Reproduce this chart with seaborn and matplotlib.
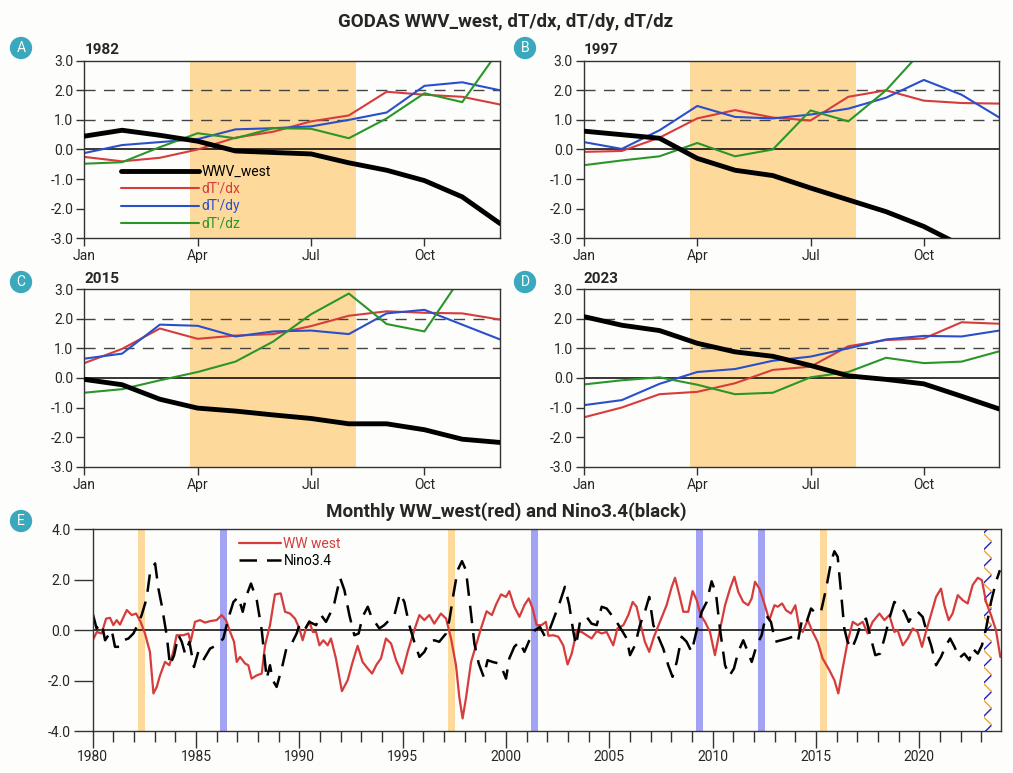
import numpy as np
import pandas as pd
import matplotlib
matplotlib.use("Agg")
import matplotlib.pyplot as plt
from matplotlib.ticker import FormatStrFormatter, MultipleLocator
import seaborn as sns

# --- datos paneles anuales (valores mensuales Jan..Dec) ---
meses = list(range(12))
etiquetas_mes = ['Jan', 'Apr', 'Jul', 'Oct']

wwv_1982 = [0.45, 0.65, 0.48, 0.28, -0.05, -0.10, -0.15, -0.45, -0.70, -1.05, -1.60, -2.50]
dx_1982 = [-0.25, -0.40, -0.28, 0.00, 0.40, 0.60, 0.95, 1.15, 1.95, 1.85, 1.78, 1.52]
dy_1982 = [-0.12, 0.15, 0.25, 0.35, 0.68, 0.72, 0.78, 1.00, 1.25, 2.15, 2.27, 2.00]
dz_1982 = [-0.48, -0.43, 0.08, 0.55, 0.38, 0.72, 0.70, 0.38, 1.05, 1.90, 1.60, 3.40]

wwv_1997 = [0.62, 0.50, 0.38, -0.30, -0.70, -0.88, -1.30, -1.70, -2.10, -2.60, -3.25, -3.60]
dx_1997 = [-0.08, -0.05, 0.40, 1.05, 1.33, 1.08, 0.98, 1.78, 2.00, 1.65, 1.57, 1.55]
dy_1997 = [0.25, 0.02, 0.65, 1.47, 1.10, 1.05, 1.18, 1.38, 1.75, 2.35, 1.85, 1.08]
dz_1997 = [-0.53, -0.37, -0.23, 0.22, -0.23, 0.00, 1.32, 0.95, 2.00, 3.40, 3.80, 4.00]

wwv_2015 = [-0.05, -0.23, -0.72, -1.02, -1.12, -1.25, -1.37, -1.55, -1.55, -1.75, -2.07, -2.18]
dx_2015 = [0.50, 0.98, 1.67, 1.32, 1.43, 1.48, 1.75, 2.10, 2.25, 2.20, 2.18, 1.97]
dy_2015 = [0.65, 0.82, 1.80, 1.76, 1.40, 1.57, 1.60, 1.48, 2.18, 2.30, 1.80, 1.30]
dz_2015 = [-0.50, -0.38, -0.08, 0.20, 0.55, 1.23, 2.15, 2.85, 1.82, 1.57, 3.45, 3.80]

wwv_2023 = [2.07, 1.78, 1.60, 1.17, 0.88, 0.73, 0.42, 0.07, -0.05, -0.20, -0.62, -1.05]
dx_2023 = [-1.33, -1.00, -0.55, -0.47, -0.18, 0.27, 0.38, 1.07, 1.28, 1.33, 1.88, 1.83]
dy_2023 = [-0.92, -0.75, -0.20, 0.20, 0.30, 0.58, 0.72, 1.00, 1.30, 1.42, 1.40, 1.60]
dz_2023 = [-0.22, -0.08, 0.02, -0.23, -0.55, -0.50, 0.02, 0.20, 0.68, 0.50, 0.55, 0.90]

# --- datos panel E (serie mensual) ---
ww_t = [1980.0, 1980.2, 1980.43, 1980.65, 1980.84, 1981.0, 1981.16, 1981.32, 1981.65, 1981.89,
        1982.1, 1982.32, 1982.53, 1982.77, 1982.94, 1983.1, 1983.26, 1983.5, 1983.71, 1983.9,
        1984.06, 1984.39, 1984.63, 1984.74, 1984.95, 1985.19, 1985.44, 1985.68, 1986.0, 1986.24,
        1986.45, 1986.68, 1986.84, 1986.97, 1987.13, 1987.37, 1987.53, 1987.69, 1987.94, 1988.18,
        1988.34, 1988.58, 1988.82, 1989.1, 1989.31, 1989.55, 1989.79, 1990.0, 1990.16, 1990.32,
        1990.48, 1990.65, 1990.81, 1990.97, 1991.16, 1991.37, 1991.53, 1991.77, 1992.06, 1992.34,
        1992.58, 1992.82, 1993.06, 1993.31, 1993.52, 1993.74, 1993.95, 1994.19, 1994.44, 1994.68,
        1994.97, 1995.24, 1995.56, 1995.81, 1996.05, 1996.29, 1996.53, 1996.85, 1997.1, 1997.34,
        1997.58, 1997.74, 1997.9, 1998.06, 1998.31, 1998.55, 1998.79, 1999.06, 1999.32, 1999.52,
        1999.76, 2000.0, 2000.16, 2000.4, 2000.65, 2000.89, 2001.1, 2001.29, 2001.48, 2001.72,
        2001.93, 2002.05, 2002.29, 2002.53, 2002.77, 2002.98, 2003.18, 2003.42, 2003.66, 2003.9,
        2004.14, 2004.39, 2004.63, 2004.87, 2005.19, 2005.39, 2005.68, 2005.92, 2006.13, 2006.32,
        2006.56, 2006.72, 2006.93, 2007.16, 2007.45, 2007.77, 2008.02, 2008.18, 2008.39, 2008.58,
        2008.82, 2009.03, 2009.23, 2009.42, 2009.63, 2009.87, 2010.11, 2010.35, 2010.6, 2010.84,
        2011.05, 2011.24, 2011.48, 2011.72, 2011.89, 2012.05, 2012.26, 2012.5, 2012.74, 2012.99,
        2013.15, 2013.36, 2013.55, 2013.79, 2014.0, 2014.2, 2014.36, 2014.6, 2014.84, 2015.08,
        2015.32, 2015.65, 2015.89, 2016.08, 2016.29, 2016.53, 2016.78, 2017.02, 2017.26, 2017.5,
        2017.74, 2018.07, 2018.31, 2018.55, 2018.79, 2018.95, 2019.2, 2019.44, 2019.68, 2019.92,
        2020.13, 2020.32, 2020.56, 2020.81, 2021.05, 2021.21, 2021.42, 2021.61, 2021.86, 2022.1,
        2022.34, 2022.58, 2022.83, 2023.03, 2023.23, 2023.47, 2023.71, 2023.92]
ww_v = [-0.40, -0.07, -0.13, 0.46, 0.49, 0.20, 0.40, 0.22, 0.80, 0.60,
        0.66, 0.33, -0.13, -0.86, -2.51, -2.25, -1.79, -1.26, -1.39, -0.86,
        -0.20, -0.20, -0.13, -0.46, 0.33, 0.40, 0.30, 0.36, 0.40, 0.60,
        0.40, -0.13, -0.46, -1.26, -1.06, -1.32, -1.39, -1.92, -1.79, -1.72,
        -0.60, 0.20, 1.42, 1.46, 0.73, 0.66, 0.46, 0.07, -0.40, 0.07,
        0.36, -0.07, -0.07, -0.60, -0.40, -0.60, -0.33, -1.12, -2.42, -1.98,
        -1.26, -0.62, -1.26, -1.52, -1.72, -1.36, -1.12, -0.33, -0.53, -1.19,
        -1.72, -0.86, 0.00, 0.60, 0.40, 0.60, 0.26, 0.66, 0.46, -0.33,
        -1.39, -2.65, -3.50, -2.71, -1.26, -0.60, 0.07, 0.75, 0.60, 1.02,
        1.42, 1.32, 1.55, 0.93, 0.53, 0.99, 1.26, 0.86, 0.20, 0.20,
        0.33, -0.22, -0.20, -0.26, -0.60, -1.36, -0.93, -0.04, -0.07, -0.20,
        -0.33, -0.04, -0.13, -0.07, -0.60, 0.07, 0.20, 0.60, 1.12, 0.93,
        0.07, -0.46, -0.86, -0.26, 0.33, 0.99, 1.72, 2.08, 1.39, 0.73,
        0.73, 1.55, 1.19, 0.60, 0.33, -0.07, -0.99, 0.00, 0.99, 1.65,
        2.12, 1.52, 1.12, 0.99, 1.26, 1.92, 1.65, 1.06, 0.40, 0.99,
        0.93, 1.06, 0.79, 0.66, 0.99, 0.07, -0.07, 0.40, -0.07, -0.46,
        -1.12, -1.59, -1.98, -2.51, -1.52, -0.46, 0.33, 0.20, 0.33, -0.13,
        0.33, 0.66, 0.40, 0.60, -0.07, 0.00, -0.60, -0.33, 0.07, -0.07,
        -0.66, -0.07, 0.60, 1.32, 1.65, 0.99, 0.40, 0.66, 1.39, 1.19,
        1.06, 1.79, 2.08, 1.98, 1.12, 0.60, 0.00, -1.06]

nino_t = [1980.0, 1980.19, 1980.44, 1980.6, 1980.92, 1981.08, 1981.32, 1981.48, 1981.73, 1981.97,
          1982.13, 1982.37, 1982.61, 1982.77, 1983.02, 1983.18, 1983.34, 1983.58, 1983.74, 1983.94,
          1984.15, 1984.31, 1984.47, 1984.68, 1984.9, 1985.11, 1985.35, 1985.68, 1986.0, 1986.32,
          1986.56, 1986.81, 1987.05, 1987.26, 1987.45, 1987.66, 1987.94, 1988.18, 1988.42, 1988.58,
          1988.71, 1988.9, 1989.15, 1989.39, 1989.63, 1989.87, 1990.0, 1990.24, 1990.48, 1990.81,
          1991.05, 1991.29, 1991.53, 1991.69, 1991.97, 1992.18, 1992.42, 1992.66, 1992.87, 1993.06,
          1993.31, 1993.52, 1993.71, 1993.87, 1994.11, 1994.35, 1994.6, 1994.87, 1995.08, 1995.32,
          1995.56, 1995.81, 1996.05, 1996.29, 1996.53, 1996.77, 1997.1, 1997.26, 1997.45, 1997.66,
          1997.87, 1998.06, 1998.26, 1998.47, 1998.68, 1998.92, 1999.11, 1999.35, 1999.65, 1999.84,
          2000.0, 2000.16, 2000.4, 2000.65, 2000.89, 2001.13, 2001.4, 2001.64, 2001.89, 2002.13,
          2002.37, 2002.61, 2002.85, 2003.06, 2003.26, 2003.39, 2003.58, 2003.9, 2004.14, 2004.39,
          2004.63, 2004.87, 2005.11, 2005.35, 2005.6, 2005.84, 2006.0, 2006.24, 2006.48, 2006.72,
          2006.93, 2007.13, 2007.37, 2007.61, 2007.85, 2008.06, 2008.26, 2008.5, 2008.74, 2008.98,
          2009.23, 2009.47, 2009.71, 2009.95, 2010.16, 2010.35, 2010.6, 2010.81, 2011.03, 2011.24,
          2011.48, 2011.64, 2011.89, 2012.13, 2012.37, 2012.58, 2012.82, 2013.03, 2013.31, 2013.63,
          2013.87, 2014.12, 2014.32, 2014.52, 2014.76, 2015.0, 2015.24, 2015.49, 2015.73, 2015.89,
          2016.05, 2016.21, 2016.37, 2016.53, 2016.74, 2016.94, 2017.18, 2017.42, 2017.66, 2017.87,
          2018.1, 2018.31, 2018.55, 2018.79, 2019.03, 2019.28, 2019.49, 2019.68, 2019.92, 2020.16,
          2020.36, 2020.57, 2020.81, 2021.05, 2021.29, 2021.49, 2021.7, 2021.94, 2022.18, 2022.42,
          2022.58, 2022.83, 2023.03, 2023.23, 2023.47, 2023.71, 2023.9]
nino_v = [0.66, 0.07, 0.26, -0.40, 0.00, -0.66, -0.66, -0.40, -0.33, -0.13,
          0.13, 0.60, 1.26, 2.25, 2.65, 1.65, 0.99, -0.20, -1.39, -0.99,
          -0.20, -0.46, -0.93, -0.46, -1.46, -0.86, -1.19, -0.73, -0.60, -0.33,
          0.46, 1.12, 1.32, 0.73, 1.39, 1.85, 1.19, 0.00, -1.92, -1.39,
          -1.98, -2.25, -1.52, -0.66, -0.53, -0.13, 0.20, 0.00, 0.33, 0.20,
          0.60, 0.33, 0.73, 1.06, 2.08, 1.59, 0.60, -0.20, -0.13, 0.53,
          0.93, 0.46, 0.26, 0.07, 0.20, 0.40, 0.60, 1.46, 1.12, 0.20,
          -0.46, -1.06, -0.86, -0.46, -0.40, -0.46, -0.13, 0.40, 1.39, 2.38,
          2.74, 2.38, 0.99, -0.53, -1.32, -1.85, -1.19, -1.26, -1.32, -1.59,
          -1.92, -1.12, -0.66, -0.46, -0.86, -0.40, 0.00, 0.13, -0.26, 0.07,
          0.60, 1.12, 1.72, 0.99, -0.07, -0.60, 0.33, 0.53, 0.26, 0.20,
          0.93, 0.86, 0.60, 0.33, 0.00, -0.33, -0.99, -0.60, 0.20, 0.73,
          1.32, 0.20, -0.26, -0.73, -1.39, -1.85, -1.26, -0.26, -0.46, -0.86,
          0.00, 0.73, 1.12, 1.94, 1.46, 0.07, -1.39, -1.81, -1.52, -0.86,
          -0.40, -0.73, -1.26, -0.60, -0.20, 0.60, 0.33, -0.46, -0.40, -0.33,
          -0.26, -0.46, 0.40, 0.26, 0.86, 0.66, 0.73, 1.65, 2.71, 3.13,
          2.91, 1.52, 0.07, -0.46, -0.73, -0.33, 0.26, 0.46, -0.33, -0.99,
          -0.93, -0.33, 0.46, 1.12, 0.99, 0.73, 0.33, 0.60, 0.73, 0.53,
          -0.07, -0.60, -1.39, -1.06, -0.60, -0.33, -0.66, -1.10, -0.93, -1.19,
          -0.73, -0.93, -0.60, 0.07, 1.12, 1.92, 2.38]

bandas_naranja = [1982.17, 1997.17, 2015.19]
bandas_azul = [1986.17, 2001.19, 2009.19, 2012.19]
banda_2023 = 2023.12

# --- estilo ---
sns.set_style('ticks')
plt.rcParams['font.family'] = ['Roboto', 'DejaVu Sans']
plt.rcParams['axes.unicode_minus'] = False
FONDO = '#fdfdfb'
NARANJA = '#fdda9b'
AZUL_BANDA = '#a3a3f3'
ROJO = '#d63c3c'
AZUL = '#2a4fcc'
VERDE = '#2a962a'
TEAL = '#3aa8bd'


def estilo_ejes(ax):
    for s in ax.spines.values():
        s.set_color('#333333')
        s.set_linewidth(1.0)
        s.set_visible(True)
    ax.set_facecolor(FONDO)
    ax.set_xlabel('')
    ax.set_ylabel('')


def graficar_anio(ax, anio, wwv, dx, dy, dz, leyenda=False):
    ax.axvspan(2.8, 7.2, color=NARANJA, lw=0, zorder=0)
    ax.axhline(0, color='black', lw=1.1, zorder=1)
    for h in (1.0, 2.0):
        ax.axhline(h, color='#444444', lw=1.0, dashes=(8, 6), zorder=1)
    sns.lineplot(x=meses, y=dx, ax=ax, color=ROJO, lw=1.5, estimator=None, label="dT'/dx", legend=False)
    sns.lineplot(x=meses, y=dy, ax=ax, color=AZUL, lw=1.5, estimator=None, label="dT'/dy", legend=False)
    sns.lineplot(x=meses, y=dz, ax=ax, color=VERDE, lw=1.5, estimator=None, label="dT'/dz", legend=False)
    sns.lineplot(x=meses, y=wwv, ax=ax, color='black', lw=3.5, estimator=None, label='WWV_west',
                 legend=False, zorder=5)
    ax.set_xlim(0, 11)
    ax.set_ylim(-3, 3)
    ax.set_xticks([0, 3, 6, 9])
    ax.set_xticklabels(etiquetas_mes)
    ax.set_yticks([-3, -2, -1, 0, 1, 2, 3])
    ax.yaxis.set_major_formatter(FormatStrFormatter('%.1f'))
    ax.tick_params(direction='out', length=6, width=1, color='#333333', labelsize=10, pad=2)
    ax.text(0.0, 1.02, str(anio), transform=ax.transAxes, fontsize=11, fontweight='bold', va='bottom')
    estilo_ejes(ax)
    if leyenda:
        h, l = ax.get_legend_handles_labels()
        orden = [3, 0, 1, 2]
        ax.legend([h[i] for i in orden], [l[i] for i in orden], loc='upper left',
                  bbox_to_anchor=(0.075, 0.447), frameon=False, handlelength=5.6,
                  handletextpad=0.2, labelspacing=0.25, fontsize=10, labelcolor='linecolor',
                  borderaxespad=0)
    elif ax.get_legend() is not None:
        ax.get_legend().remove()


fig = plt.figure(figsize=(10.13, 7.73), dpi=100, facecolor=FONDO)
axA = fig.add_axes([0.0832, 0.6917, 0.4104, 0.2298])
axB = fig.add_axes([0.5765, 0.6917, 0.4100, 0.2298])
axC = fig.add_axes([0.0832, 0.3962, 0.4104, 0.2298])
axD = fig.add_axes([0.5765, 0.3962, 0.4100, 0.2298])
axE = fig.add_axes([0.0915, 0.0543, 0.8966, 0.2609])

graficar_anio(axA, 1982, wwv_1982, dx_1982, dy_1982, dz_1982, leyenda=True)
graficar_anio(axB, 1997, wwv_1997, dx_1997, dy_1997, dz_1997)
graficar_anio(axC, 2015, wwv_2015, dx_2015, dy_2015, dz_2015)
graficar_anio(axD, 2023, wwv_2023, dx_2023, dy_2023, dz_2023)

# --- panel E ---
for b in bandas_naranja:
    axE.axvspan(b, b + 0.35, color=NARANJA, lw=0, zorder=0)
for b in bandas_azul:
    axE.axvspan(b, b + 0.35, color=AZUL_BANDA, lw=0, zorder=0)
axE.axvspan(banda_2023, banda_2023 + 0.4, facecolor='none', edgecolor='#2020c0', hatch='//', lw=0, zorder=0)
axE.axvspan(banda_2023, banda_2023 + 0.4, facecolor='none', edgecolor='#f0a830', hatch='\\\\', lw=0, zorder=0)
axE.axhline(0, color='black', lw=1.1, zorder=1)
sns.lineplot(x=ww_t, y=ww_v, ax=axE, color=ROJO, lw=1.6, estimator=None, label='WW west', legend=False)
sns.lineplot(x=nino_t, y=nino_v, ax=axE, color='black', lw=1.8, estimator=None, label='Nino3.4',
             legend=False, dashes=False)
axE.lines[-1].set_dashes((7, 4))
axE.set_xlim(1980, 2023.95)
axE.set_ylim(-4, 4)
axE.set_xticks(list(range(1980, 2021, 5)))
axE.xaxis.set_minor_locator(MultipleLocator(1))
axE.set_yticks([-4, -2, 0, 2, 4])
axE.yaxis.set_major_formatter(FormatStrFormatter('%.1f'))
axE.tick_params(which='major', direction='out', length=12, width=1, color='#333333', labelsize=10, pad=2)
axE.tick_params(which='minor', direction='out', length=8, width=1, color='#333333')
axE.tick_params(axis='y', which='major', length=14)
estilo_ejes(axE)
axE.legend(loc='upper left', bbox_to_anchor=(0.155, 0.99), frameon=False, handlelength=3.0,
           handletextpad=0.2, labelspacing=0.2, fontsize=10, labelcolor='linecolor', borderaxespad=0)

# --- titulos y etiquetas ---
fig.text(0.4995, 0.971, 'GODAS WWV_west, dT/dx, dT/dy, dT/dz', ha='center', va='center',
         fontsize=13.5, fontweight='bold')
fig.text(0.4995, 0.3376, 'Monthly WW_west(red) and Nino3.4(black)', ha='center', va='center',
         fontsize=13.5, fontweight='bold')
for letra, x, y in [('A', 21, 48), ('B', 525, 48), ('C', 21, 282), ('D', 525, 282), ('E', 21, 521)]:
    fig.text(x / 1013, 1 - y / 773, letra, ha='center', va='center', color='white', fontsize=10,
             bbox=dict(boxstyle='circle,pad=0.3', fc=TEAL, ec='none'))

fig.savefig('out.png', dpi=100, facecolor=FONDO)
